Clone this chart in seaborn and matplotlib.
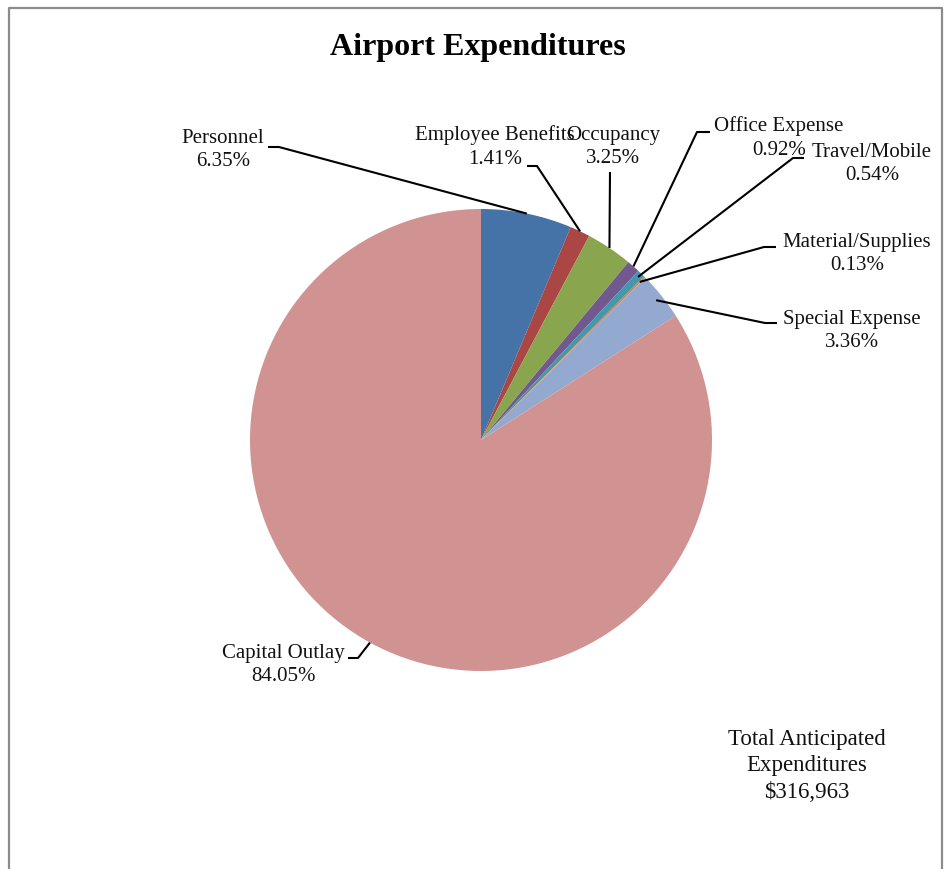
import numpy as np
import matplotlib
matplotlib.use("Agg")
import matplotlib.pyplot as plt
import seaborn as sns

# Expenditure categories and their shares of the total (%)
categories = ["Personnel", "Employee Benefits", "Occupancy", "Office Expense",
              "Travel/Mobile", "Material/Supplies", "Special Expense", "Capital Outlay"]
shares = [6.35, 1.41, 3.25, 0.92, 0.54, 0.13, 3.36, 84.05]
total_label = "$316,963"
colors = ["#4572A7", "#AA4643", "#89A54E", "#71588F",
          "#4198AF", "#DB843D", "#93A9CF", "#D19392"]

sns.set_theme(style="white")
plt.rcParams["font.family"] = ["Liberation Serif", "DejaVu Serif"]

W, H = 951, 869
fig = plt.figure(figsize=(W / 100, H / 100), dpi=100)
ax = fig.add_axes([0, 0, 1, 1])


def Y(y):
    # layout positions are given from the top edge
    return H - y


cx, cy, R = 481, 440, 231
palette = sns.color_palette(colors)
wedges, _ = ax.pie(shares, colors=palette, startangle=90, counterclock=False,
                   center=(cx, Y(cy)), radius=R, frame=True,
                   wedgeprops=dict(linewidth=0))
ax.set_xlim(0, W)
ax.set_ylim(0, H)
ax.set_aspect("equal")
ax.axis("off")

# label block centres, and the leader path (text end, elbow) for each slice
label_pos = [(223, 150), (495, 147), (613, 147), (779, 138),
             (872, 164), (857, 254), (852, 331), (283, 665)]
leader_path = [
    [(268, 147), (279, 147)],
    [(527, 166), (537, 166)],
    [(610, 172)],
    [(710, 132), (697, 132)],
    [(804, 158), (793, 158)],
    [(776, 247), (764, 247)],
    [(777, 323), (765, 323)],
    [(348, 658), (358, 658)],
]
anchor_r = [1.0, 1.0, 1.0, 1.0, 0.98, 0.97, 0.97, 1.0]

cum = np.cumsum([0] + shares[:-1])
total = sum(shares)
for i, (name, val) in enumerate(zip(categories, shares)):
    mid = (cum[i] + val / 2) / total * 360.0
    th = np.deg2rad(mid)
    ax_x = cx + R * anchor_r[i] * np.sin(th)
    ax_y = cy - R * anchor_r[i] * np.cos(th)
    pts = leader_path[i] + [(ax_x, ax_y)]
    ax.plot([p[0] for p in pts], [Y(p[1]) for p in pts], color="black", lw=1.5,
            solid_capstyle="butt", zorder=3)
    lx, ly = label_pos[i]
    ax.text(lx, Y(ly), f"{name}\n{val:.2f}%", ha="center", va="center",
            fontsize=15, linespacing=1.3, color="#111111", zorder=4)

ax.text(478, Y(47), "Airport Expenditures", ha="center", va="center",
        fontsize=23, fontweight="bold", color="black")
ax.text(807, Y(766), f"Total Anticipated\nExpenditures\n{total_label}",
        ha="center", va="center", fontsize=16.5, linespacing=1.35, color="#111111")

# chart border (open at the bottom)
ax.plot([8.5, 8.5, 941.5, 941.5], [0, Y(7.5), Y(7.5), 0], color="#8c8c8c", lw=1.6,
        clip_on=False)

fig.savefig("out.png", dpi=100)
